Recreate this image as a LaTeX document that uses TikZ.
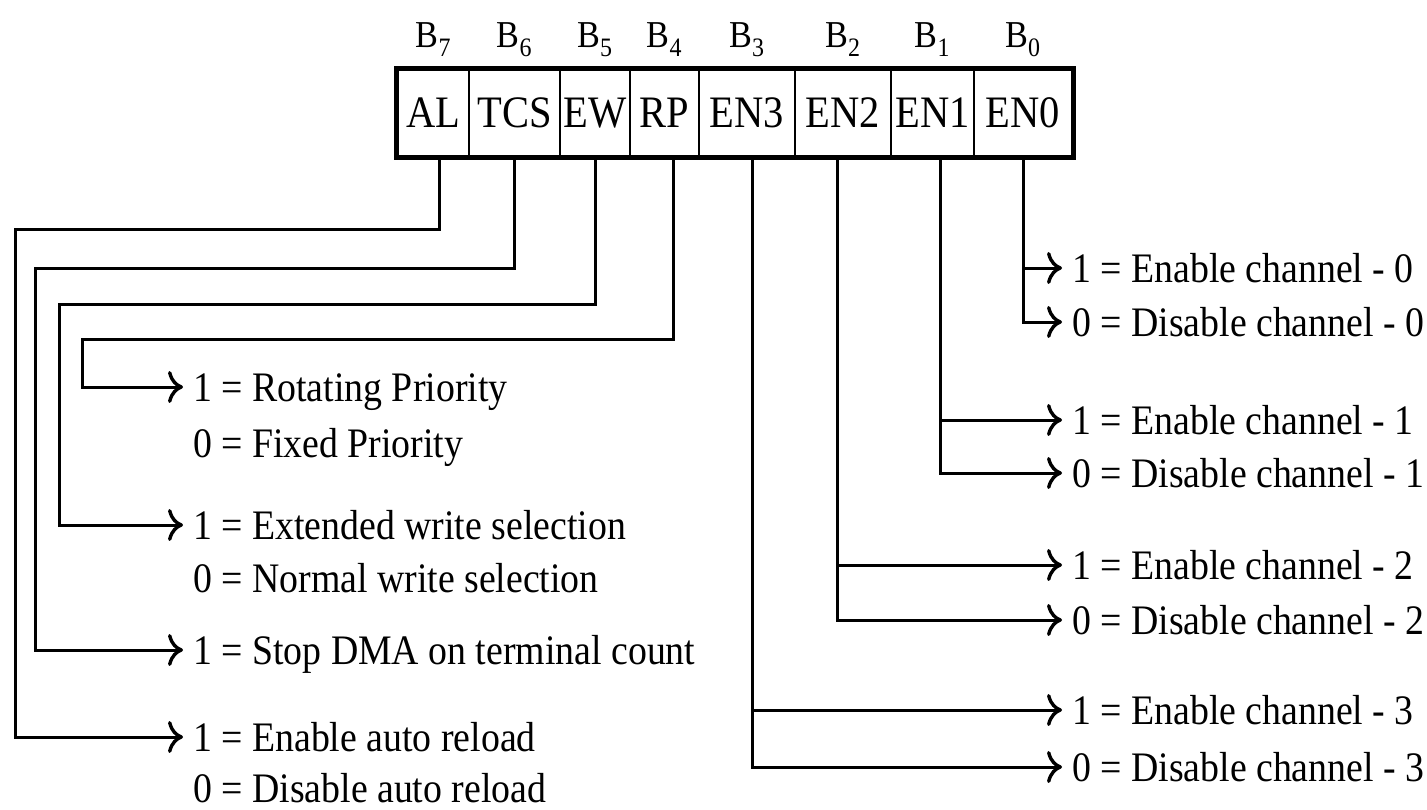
\documentclass[tikz,border=0pt]{standalone}
\usepackage{fontspec}
\setmainfont{Liberation Serif}[FakeStretch=0.9]
\usepackage{tikz}
\usetikzlibrary{arrows.meta, positioning, calc}

\begin{document}
\begin{tikzpicture}[
  x=1pt, y=-1pt,
  cell/.style={draw=black, line width=2.6pt, minimum height=86pt, inner sep=0pt, font=\fontsize{45}{48}\selectfont},
  bit/.style={inner sep=0pt, font=\fontsize{38}{40}\selectfont},
  txt/.style={anchor=west, inner xsep=10pt, inner ysep=0pt, text height=28pt, text depth=0pt, font=\fontsize{42}{44}\selectfont},
  wire/.style={line width=3pt},
  >={Computer Modern Rightarrow[length=15pt, width=32pt, line width=3.4pt]}
]
\useasboundingbox (0,0) rectangle (1427,809);

\node[cell, minimum width=71pt] (al)  at (433.5,113) {AL};
\node[cell, minimum width=91pt] (tcs) at (514.5,113) {TCS};
\node[cell, minimum width=70pt] (ew)  at (595,113)   {EW};
\node[cell, minimum width=69pt] (rp)  at (664.5,113) {RP};
\node[cell, minimum width=96pt] (en3) at (747,113)   {EN3};
\node[cell, minimum width=96pt] (en2) at (843,113)   {EN2};
\node[cell, minimum width=83pt] (en1) at (932.5,113) {EN1};
\node[cell, minimum width=98pt] (en0) at (1023,113)  {EN0};
\draw[line width=4.5pt] (al.north west) rectangle (en0.south east);

\node[bit, above=12pt of al]  (b7) {B\textsubscript{7}};
\node[bit, above=12pt of tcs] (b6) {B\textsubscript{6}};
\node[bit, above=12pt of ew]  (b5) {B\textsubscript{5}};
\node[bit, above=12pt of rp]  (b4) {B\textsubscript{4}};
\node[bit, above=12pt of en3] (b3) {B\textsubscript{3}};
\node[bit, above=12pt of en2] (b2) {B\textsubscript{2}};
\node[bit, above=12pt of en1] (b1) {B\textsubscript{1}};
\node[bit, above=12pt of en0] (b0) {B\textsubscript{0}};

\node[txt] (rot1)  at (183,387) {1 = Rotating Priority};
\node[txt] (rot0)  at (183,443) {0 = Fixed Priority};
\node[txt] (ext1)  at (183,525) {1 = Extended write selection};
\node[txt] (ext0)  at (183,578) {0 = Normal write selection};
\node[txt] (stop1) at (183,650) {1 = Stop DMA on terminal count};
\node[txt] (rel1)  at (183,737) {1 = Enable auto reload};
\node[txt] (rel0)  at (183,788) {0 = Disable auto reload};

\node[txt] (ch0on)  at (1062,268) {1 = Enable channel - 0};
\node[txt] (ch0off) at (1062,322) {0 = Disable channel - 0};
\node[txt] (ch1on)  at (1062,420) {1 = Enable channel - 1};
\node[txt] (ch1off) at (1062,473) {0 = Disable channel - 1};
\node[txt] (ch2on)  at (1062,565) {1 = Enable channel - 2};
\node[txt] (ch2off) at (1062,620) {0 = Disable channel - 2};
\node[txt] (ch3on)  at (1062,710) {1 = Enable channel - 3};
\node[txt] (ch3off) at (1062,767) {0 = Disable channel - 3};

\draw[wire, ->] ([xshift=6pt]al.south) |- (15,229) |- (rel1.west);
\draw[wire, ->] (tcs.south) |- (35,268) |- (stop1.west);
\draw[wire, ->] (ew.south) |- (59,304) |- (ext1.west);
\draw[wire, ->] ([xshift=9pt]rp.south) |- (82,339) |- (rot1.west);

\draw[wire, ->] ([xshift=5pt]en3.south) |- (ch3on.west);
\draw[wire, ->] ([xshift=5pt]en3.south) |- (ch3off.west);
\draw[wire, ->] ([xshift=-6pt]en2.south) |- (ch2on.west);
\draw[wire, ->] ([xshift=-6pt]en2.south) |- (ch2off.west);
\draw[wire, ->] ([xshift=8pt]en1.south) |- (ch1on.west);
\draw[wire, ->] ([xshift=8pt]en1.south) |- (ch1off.west);
\draw[wire, ->] (en0.south) |- (ch0on.west);
\draw[wire, ->] (en0.south) |- (ch0off.west);
\end{tikzpicture}
\end{document}
